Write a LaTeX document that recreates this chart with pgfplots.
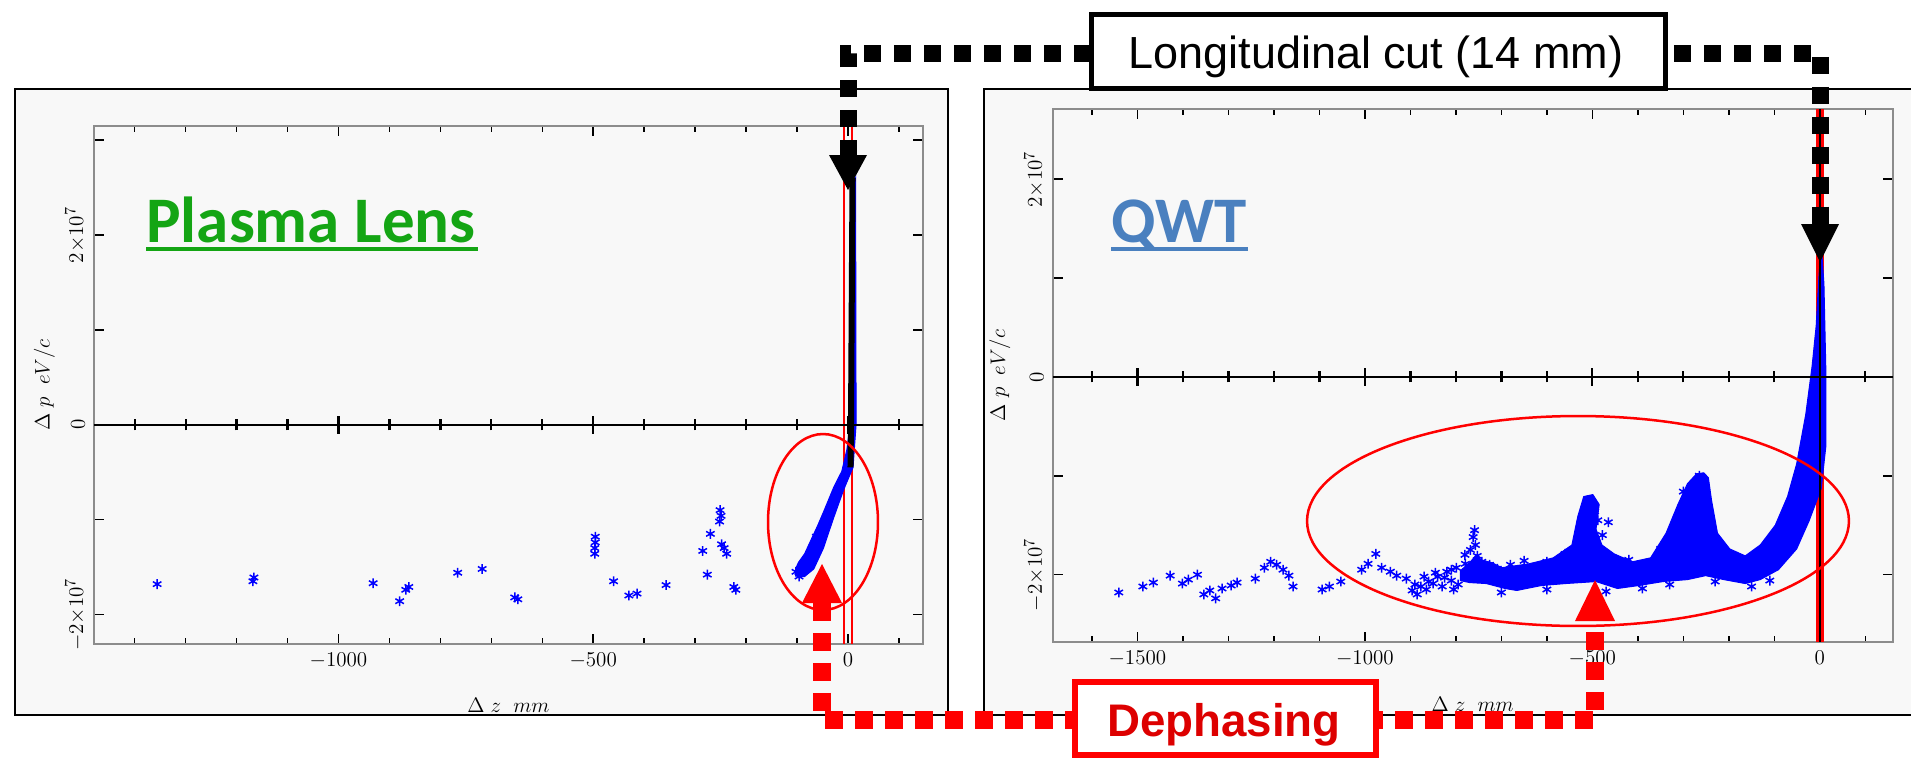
\documentclass[border=0pt]{standalone}
\usepackage{pgfplots}
\pgfplotsset{compat=1.18}
\usepackage{fontspec}
\setmainfont{Liberation Sans}
\newfontfamily\carlito{Carlito}
\definecolor{panelbg}{HTML}{F8F8F8}
\definecolor{axgray}{HTML}{8C8C8C}
\definecolor{plgreen}{HTML}{14A514}
\definecolor{qwtblue}{HTML}{4A80BF}
\definecolor{dred}{HTML}{DD0000}

\pgfplotsset{
  panelaxis/.style={
    scale only axis, anchor=south west,
    axis background/.style={fill=panelbg},
    axis line style={axgray, line width=0.04cm},
    tick align=inside,
    major tick length=0.2cm, minor tick length=0.12cm,
    every tick/.style={black, line width=0.03cm},
    tick label style={font=\fontsize{12.5}{14}\selectfont},
    xticklabel style={inner sep=5pt},
    yticklabel style={rotate=90, anchor=south, inner sep=5pt},
    scaled y ticks=false, scaled x ticks=false,
    minor xtick={-1600,-1500,...,100},
    xlabel={$\Delta\ z\ \ mm$},
    ylabel={$\Delta\ p\ \ eV/c$},
    label style={font=\fontsize{12.5}{14}\selectfont},
  },
  zeroaxis/.style={
    scale only axis, anchor=south west,
    axis x line=middle, axis y line=none,
    axis line style={black, line width=0.05cm, -},
    tick align=center,
    major tick length=0.36cm, minor tick length=0.22cm,
    xtick style={black, line width=0.045cm},
    minor tick style={black, line width=0.04cm},
    xticklabels={}, minor xtick={-1600,-1500,...,100},
    ytick=\empty,
  },
  stars/.style={blue, only marks, mark=asterisk, mark size=2.8pt, mark options={line width=0.03cm}},
}

\begin{document}
\begin{tikzpicture}
\begin{scope}[x=0.02cm,y=-0.02cm]
\path[use as bounding box] (0,0) rectangle (1911,758);
\fill[panelbg] (15,89) rectangle (948,715);
\draw[black, line width=0.04cm] (15,89) rectangle (948,715);
\fill[panelbg] (984,89) rectangle (1911,715);
\draw[black, line width=0.04cm] (1911,89) -- (984,89) -- (984,715) -- (1911,715);
\end{scope}

% ---------- Left panel: Plasma Lens ----------
\begin{axis}[panelaxis, at={(1.88cm,-12.88cm)}, width=16.58cm, height=10.36cm,
  xmin=-1480, xmax=147, ymin=-2.31e7, ymax=3.15e7,
  xtick={-1000,-500,0}, xticklabels={$-1000$,$-500$,$0$},
  ytick={-2e7,-1e7,0,1e7,2e7,3e7},
  yticklabels={{$-2{\times}10^7$},{},{$0$},{},{$2{\times}10^7$},{}},
  xlabel style={at={(axis description cs:0.5,-0.118)}, anchor=center},
  ylabel style={at={(axis description cs:-0.06,0.5)}, anchor=center}]
\addplot[red, line width=0.04cm] coordinates {(-7,-2.31e7) (-7,3.15e7)};
\addplot[red, line width=0.04cm] coordinates {(7,-2.31e7) (7,3.15e7)};
\addplot[blue, fill=blue, line width=0.02cm] coordinates {
(-103,-1.52e7) (-97,-1.45e7) (-85,-1.36e7) (-73,-1.22e7) (-60,-1.07e7) (-48,-0.92e7)
(-28,-0.66e7) (-12,-0.49e7) (-2,-0.26e7) (4,0) (8,1.47e7) (10,2.5e7) (15,2.6e7)
(16,0) (10,-0.45e7) (-8,-0.68e7) (-28,-0.98e7) (-48,-1.30e7) (-67,-1.52e7)
(-85,-1.60e7) (-100,-1.60e7) (-103,-1.52e7)};
\addplot[black, line width=0.12cm] coordinates {(5,-0.45e7) (6,0) (9,2.6e7)};
\addplot[stars] coordinates {
(-1356,-1.68e7) (-1168,-1.65e7) (-1166,-1.61e7) (-932,-1.67e7) (-868,-1.74e7)
(-862,-1.71e7) (-880,-1.86e7) (-766,-1.56e7) (-718,-1.52e7) (-654,-1.82e7)
(-648,-1.84e7) (-496,-1.18e7) (-496,-1.24e7) (-497,-1.30e7) (-497,-1.36e7)
(-460,-1.65e7) (-430,-1.80e7) (-414,-1.78e7) (-357,-1.69e7) (-285,-1.33e7)
(-276,-1.58e7) (-270,-1.15e7) (-251,-0.90e7) (-249,-0.96e7) (-252,-1.02e7)
(-248,-1.26e7) (-243,-1.30e7) (-238,-1.36e7) (-224,-1.71e7) (-220,-1.74e7)
(-102,-1.55e7) (-96,-1.60e7) (-90,-1.50e7) (-84,-1.46e7) (-76,-1.40e7)
(-70,-1.30e7) (-62,-1.18e7)};
\end{axis}
\begin{axis}[zeroaxis, at={(1.88cm,-12.88cm)}, width=16.58cm, height=10.36cm,
  xmin=-1480, xmax=147, ymin=-2.31e7, ymax=3.15e7, xtick={-1000,-500,0}]
\addplot[draw=none] coordinates {(0,0)};
\end{axis}

% ---------- Right panel: QWT ----------
\begin{axis}[panelaxis, at={(21.06cm,-12.84cm)}, width=16.8cm, height=10.66cm,
  xmin=-1686, xmax=160, ymin=-2.68e7, ymax=2.71e7,
  xtick={-1500,-1000,-500,0}, xticklabels={$-1500$,$-1000$,$-500$,$0$},
  ytick={-2e7,-1e7,0,1e7,2e7},
  yticklabels={{$-2{\times}10^7$},{},{$0$},{},{$2{\times}10^7$}},
  xlabel style={at={(axis description cs:0.5,-0.118)}, anchor=center},
  ylabel style={at={(axis description cs:-0.063,0.5)}, anchor=center}]
\addplot[red, line width=0.08cm] coordinates {(-5,-2.68e7) (-5,2.71e7)};
\addplot[red, line width=0.08cm] coordinates {(5,-2.68e7) (5,2.71e7)};
\addplot[blue, fill=blue, line width=0.02cm] coordinates {
(-790,-1.96e7) (-770,-1.88e7) (-755,-1.80e7)
(-745,-1.85e7) (-720,-1.88e7) (-699,-1.93e7) (-639,-1.89e7) (-586,-1.83e7)
(-545,-1.70e7) (-532,-1.41e7) (-519,-1.21e7) (-499,-1.19e7) (-485,-1.29e7)
(-492,-1.54e7) (-479,-1.70e7) (-452,-1.79e7) (-412,-1.87e7) (-372,-1.83e7)
(-338,-1.58e7) (-312,-1.29e7) (-291,-1.08e7) (-271,-0.98e7) (-255,-0.97e7)
(-245,-1.02e7) (-238,-1.25e7) (-225,-1.58e7) (-198,-1.74e7) (-164,-1.81e7)
(-131,-1.70e7) (-98,-1.50e7) (-71,-1.21e7) (-51,-0.88e7) (-31,-0.38e7)
(-17,0.11e7) (-8,0.52e7) (-3,0.94e7) (3,1.35e7)
(9,0.94e7) (13,0.11e7) (13,-0.71e7) (3,-1.13e7) (-24,-1.46e7) (-51,-1.74e7)
(-91,-1.95e7) (-131,-2.05e7) (-164,-2.09e7) (-211,-2.05e7) (-251,-2.01e7)
(-291,-2.05e7) (-345,-2.07e7) (-398,-2.11e7) (-445,-2.14e7) (-492,-2.07e7)
(-559,-2.09e7) (-612,-2.11e7) (-666,-2.16e7) (-692,-2.14e7) (-733,-2.09e7)
(-770,-2.08e7) (-790,-2.06e7) (-790,-1.96e7)};
\addplot[stars] coordinates {
(-1541,-2.18e7) (-1488,-2.12e7) (-1465,-2.08e7) (-1428,-2.01e7) (-1401,-2.09e7)
(-1388,-2.05e7) (-1368,-2.00e7) (-1354,-2.20e7) (-1341,-2.16e7) (-1328,-2.24e7)
(-1314,-2.14e7) (-1294,-2.11e7) (-1281,-2.08e7) (-1241,-2.04e7) (-1221,-1.93e7)
(-1207,-1.87e7) (-1194,-1.90e7) (-1180,-1.95e7) (-1167,-2.01e7) (-1158,-2.12e7)
(-1094,-2.15e7) (-1078,-2.12e7) (-1053,-2.07e7) (-1007,-1.95e7) (-993,-1.89e7)
(-976,-1.79e7) (-963,-1.93e7) (-944,-1.97e7) (-930,-2.01e7) (-909,-2.04e7)
(-896,-2.16e7) (-877,-2.12e7) (-860,-2.07e7) (-840,-2.02e7) (-820,-1.97e7)
(-799,-1.93e7) (-779,-1.89e7) (-759,-1.55e7) (-757,-1.70e7) (-753,-1.81e7)
(-743,-1.87e7) (-726,-1.90e7) (-709,-1.94e7)
(-890,-2.10e7) (-885,-2.20e7) (-870,-2.02e7) (-865,-2.15e7) (-850,-2.09e7)
(-845,-1.98e7) (-830,-2.12e7) (-825,-2.03e7) (-810,-2.06e7) (-805,-2.15e7)
(-810,-1.95e7) (-795,-2.10e7) (-780,-1.80e7) (-768,-1.75e7) (-762,-1.62e7)
(-510,-1.25e7) (-505,-1.31e7) (-495,-1.36e7) (-488,-1.45e7) (-478,-1.60e7)
(-465,-1.47e7) (-520,-1.55e7) (-530,-1.62e7) (-600,-1.87e7) (-650,-1.86e7)
(-560,-1.79e7) (-420,-1.85e7) (-350,-1.74e7) (-300,-1.16e7) (-265,-1.00e7)
(-600,-2.15e7) (-470,-2.17e7) (-330,-2.10e7) (-150,-2.12e7) (-700,-2.18e7)
(-230,-2.07e7) (-390,-2.14e7) (-680,-1.90e7) (-110,-2.06e7)};
\addplot[black, line width=0.05cm] coordinates {(0,-2.68e7) (0,2.71e7)};
\end{axis}
\begin{axis}[zeroaxis, at={(21.06cm,-12.84cm)}, width=16.8cm, height=10.66cm,
  xmin=-1686, xmax=160, ymin=-2.68e7, ymax=2.71e7, xtick={-1500,-1000,-500,0}]
\addplot[draw=none] coordinates {(0,0)};
\end{axis}

% ---------- Annotations ----------
\begin{scope}[x=0.02cm,y=-0.02cm]
% ellipses
\draw[red, line width=0.05cm] (823,522) ellipse [x radius=1.1cm, y radius=1.76cm];
\draw[red, line width=0.05cm] (1578,521) ellipse [x radius=5.42cm, y radius=2.1cm];
% titles
\node[anchor=base west, inner sep=0pt, text=plgreen, font=\carlito\bfseries\fontsize{37}{40}\selectfont] at (146,242) {Plasma Lens};
\draw[plgreen, line width=0.08cm] (146,249) -- (478,249);
\node[anchor=base west, inner sep=0pt, text=qwtblue, font=\carlito\bfseries\fontsize{37}{40}\selectfont] at (1111,242) {QWT};
\draw[qwtblue, line width=0.08cm] (1111,249) -- (1248,249);
% red dashed path (Dephasing)
\draw[red, line width=0.36cm, dash pattern=on 0.36cm off 0.24cm] (822,603) -- (822,720) -- (1595,720) -- (1595,620);
\fill[red] (802,603) -- (842,603) -- (822,564) -- cycle;
\fill[red] (1575,621) -- (1615,621) -- (1595,580) -- cycle;
% black dashed path (longitudinal cut)
\draw[black, line width=0.34cm, dash pattern=on 0.34cm off 0.26cm] (848,157) -- (848,53) -- (1820,53) -- (1820,226);
\fill[black] (829,155) -- (867,155) -- (848,190) -- cycle;
\fill[black] (1801,224) -- (1839,224) -- (1820,262) -- cycle;
% boxes
\draw[black, line width=0.1cm, fill=white] (1091.5,14.5) rectangle (1665.5,88.5);
\node[anchor=base, inner sep=0pt, font=\fontsize{25.6}{28}\selectfont] at (1376,68) {Longitudinal cut (14 mm)};
\draw[red, line width=0.12cm, fill=white] (1075,682) rectangle (1376,755);
\node[anchor=base, inner sep=0pt, text=dred, font=\bfseries\fontsize{26}{28}\selectfont] at (1224,736) {Dephasing};
\end{scope}
\end{tikzpicture}
\end{document}
